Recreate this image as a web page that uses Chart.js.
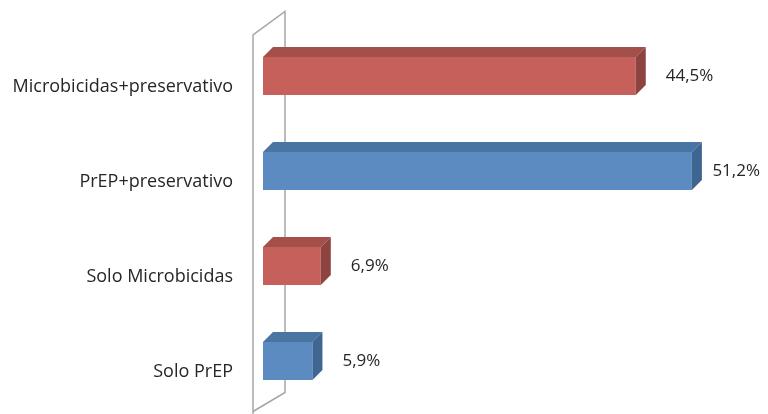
<!DOCTYPE html>
<html>
<head>
<meta charset="utf-8">
<script src="https://cdn.jsdelivr.net/npm/chart.js@4/dist/chart.umd.min.js"></script>
<style>
  html, body { margin: 0; padding: 0; background: #ffffff; }
  #wrap { width: 768px; height: 414px; position: relative; }
</style>
</head>
<body>
<div id="wrap"><canvas id="c" width="768" height="414"></canvas></div>
<script>
// Preferred prevention method, share of respondents (%)
const categories = ['Microbicidas+preservativo', 'PrEP+preservativo', 'Solo Microbicidas', 'Solo PrEP'];
const shares = [44.5, 51.2, 6.9, 5.9];

// Face colours for the extruded bars: front, top, side
const redFaces = ['#c5615a', '#a44f4a', '#8d4441'];
const blueFaces = ['#5b8bc1', '#4a74a2', '#3e6690'];
const faceSets = [redFaces, blueFaces, redFaces, blueFaces];

const DEPTH = 10;
const FONT = '"Open Sans", sans-serif';

// Draws the side wall, the extruded faces of each bar and the value labels
const depthPlugin = {
  id: 'depth',
  beforeDatasetsDraw(chart) {
    const { ctx, chartArea } = chart;
    const x0 = chartArea.left - 10;
    const x1 = x0 + 32;
    ctx.save();
    ctx.strokeStyle = '#a6a6a6';
    ctx.lineWidth = 1.5;
    ctx.beginPath();
    ctx.moveTo(x0, 414);
    ctx.lineTo(x0, 35);
    ctx.lineTo(x1, 11.5);
    ctx.lineTo(x1, 392.5);
    ctx.lineTo(x0, 411.5);
    ctx.stroke();
    ctx.restore();
  },
  afterDatasetsDraw(chart) {
    const { ctx } = chart;
    const meta = chart.getDatasetMeta(0);
    ctx.save();
    meta.data.forEach((bar, i) => {
      const faces = faceSets[i];
      const { x, y, base, height } = bar.getProps(['x', 'y', 'base', 'height'], true);
      const top = y - height / 2;
      const bottom = y + height / 2;
      const d = DEPTH;
      // top face
      ctx.fillStyle = faces[1];
      ctx.beginPath();
      ctx.moveTo(base, top);
      ctx.lineTo(base + d, top - d);
      ctx.lineTo(x + d, top - d);
      ctx.lineTo(x, top);
      ctx.closePath();
      ctx.fill();
      // side face
      ctx.fillStyle = faces[2];
      ctx.beginPath();
      ctx.moveTo(x, top);
      ctx.lineTo(x + d, top - d);
      ctx.lineTo(x + d, bottom - d);
      ctx.lineTo(x, bottom);
      ctx.closePath();
      ctx.fill();
      // value label, kept inside the canvas when the bar is long
      const v = chart.data.datasets[0].data[i];
      const text = v.toFixed(1).replace('.', ',') + '%';
      ctx.fillStyle = '#262626';
      ctx.font = '17px ' + FONT;
      ctx.textAlign = 'left';
      ctx.textBaseline = 'middle';
      const w = ctx.measureText(text).width;
      const tx = Math.min(x + d + 20, chart.width - w - 8);
      ctx.fillText(text, tx, y);
    });
    ctx.restore();
  }
};

new Chart(document.getElementById('c'), {
  type: 'bar',
  data: {
    labels: categories,
    datasets: [{
      data: shares,
      backgroundColor: faceSets.map(f => f[0]),
      borderWidth: 0,
      barPercentage: 0.8,
      categoryPercentage: 0.5
    }]
  },
  options: {
    indexAxis: 'y',
    responsive: false,
    animation: false,
    events: [],
    layout: { padding: { top: 28.5, bottom: 5.5, left: 0, right: 2.4 } },
    plugins: { legend: { display: false }, tooltip: { enabled: false } },
    scales: {
      x: { display: false, min: 0, max: 60 },
      y: {
        grid: { display: false, drawTicks: false },
        border: { display: false },
        afterFit(scale) {
          scale.width = 263;
          scale.paddingTop = 0;
          scale.paddingBottom = 0;
        },
        ticks: {
          padding: 30,
          labelOffset: 11,
          color: '#262626',
          font: { family: FONT, size: 18 }
        }
      }
    }
  },
  plugins: [depthPlugin]
});
</script>
</body>
</html>
